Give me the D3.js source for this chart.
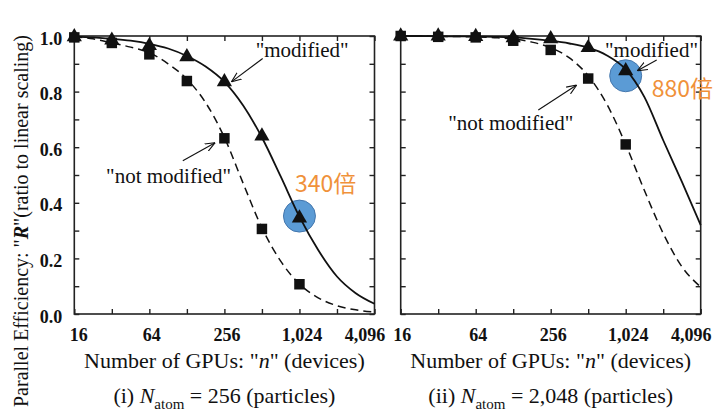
<!DOCTYPE html>
<html><head><meta charset="utf-8">
<script src="https://cdn.jsdelivr.net/npm/d3@7"></script>
<style>
body{margin:0;background:#fff} svg{display:block}
.serif{font-family:"Liberation Serif","DejaVu Serif","Noto Serif",serif;}
</style>
</head><body>
<svg id="c" width="713" height="412"></svg>
<script>
// ---------- data ----------
const gpuCounts = [16, 32, 64, 128, 256, 512, 1024];
const modified256 = [0.997, 0.985, 0.965, 0.925, 0.835, 0.64, 0.345];
const notModified256 = [0.995, 0.975, 0.934, 0.838, 0.632, 0.306, 0.107];
const modified2048 = [1.0, 1.0, 0.998, 0.993, 0.99, 0.958, 0.875];
const notModified2048 = [1.0, 0.997, 0.995, 0.983, 0.95, 0.847, 0.61];

const fitN = [16, 22.6, 32, 45.3, 64, 90.5, 128, 181, 256, 362, 512, 724, 1024, 1448, 2048, 2896, 4096];
const fitModified256 = [0.998, 0.995, 0.99, 0.983, 0.972, 0.955, 0.928, 0.89, 0.835, 0.75, 0.635, 0.495, 0.35, 0.23, 0.135, 0.075, 0.037];
const fitNotModified256 = [0.997, 0.99, 0.975, 0.96, 0.94, 0.9, 0.845, 0.76, 0.635, 0.47, 0.31, 0.19, 0.108, 0.058, 0.03, 0.015, 0.007];
const fitModified2048 = [1.0, 1.0, 0.999, 0.999, 0.998, 0.997, 0.995, 0.99, 0.983, 0.973, 0.958, 0.93, 0.88, 0.78, 0.625, 0.475, 0.32];
const fitNotModified2048 = [1.0, 1.0, 0.999, 0.998, 0.997, 0.994, 0.989, 0.978, 0.958, 0.921, 0.857, 0.754, 0.61, 0.444, 0.29, 0.17, 0.097];

const xTickValues = [16, 32, 64, 128, 256, 512, 1024, 2048, 4096];
const xTickLabels = ["16", "", "64", "", "256", "", "1,024", "", "4,096"];
const yTickValues = [0, 0.1, 0.2, 0.3, 0.4, 0.5, 0.6, 0.7, 0.8, 0.9, 1.0];
const yTickLabels = ["0.0", "", "0.2", "", "0.4", "", "0.6", "", "0.8", "", "1.0"];

const panelCaptions = ["(i) ", "(ii) "];
const panelAtoms = ["256", "2,048"];
const speedups = ["340倍", "880倍"];

// ---------- layout ----------
const svg = d3.select("#c");
svg.append("rect").attr("width", 713).attr("height", 412).attr("fill", "#fff");
const ink = "#111";

svg.append("defs").append("marker")
  .attr("id", "arr").attr("viewBox", "0 0 10 10").attr("refX", 10).attr("refY", 5)
  .attr("markerWidth", 10).attr("markerHeight", 10).attr("markerUnits", "userSpaceOnUse")
  .attr("orient", "auto")
  .append("path").attr("d", "M0,1 L10,5 L0,9").attr("fill", "none").attr("stroke", ink).attr("stroke-width", 1.1);

const panels = [
  { x0: 74.3, x1: 374.5, mod: modified256, nmod: notModified256, fm: fitModified256, fn: fitNotModified256,
    showY: true, firstDx: 4, hl: { n: 1024, v: 0.345, dy: -2 }, spd: { dx: -4.5, dy: -26.3 },
    ann: [
      { text: '"modified"', n: 256, v: 0.835, tip: [7, 0], start: [38.3, -23.4], txt: [31.3, -25] },
      { text: '"not modified"', n: 256, v: 0.632, tip: [-9.3, 4.4], start: [-41.6, 22.4], txt: [-118.3, 44.4] }
    ] },
  { x0: 400.7, x1: 700.7, mod: modified2048, nmod: notModified2048, fm: fitModified2048, fn: fitNotModified2048,
    showY: false, firstDx: 1, hl: { n: 1024, v: 0.875, dy: 5 }, spd: { dx: 26, dy: 26 },
    ann: [
      { text: '"modified"', n: 1024, v: 0.875, tip: [11.6, 0], start: [31, -10.7], txt: [-20.7, -13.4] },
      { text: '"not modified"', n: 512, v: 0.847, tip: [-11.5, 6.5], start: [-49.9, 31.5], txt: [-139.9, 51.5] }
    ] }
];
const yTop = 36, yBot = 314;

panels.forEach((p, pi) => {
  const x = d3.scaleLog().base(2).domain([16, 4096]).range([p.x0, p.x1]);
  const y = d3.scaleLinear().domain([0, 1]).range([yBot, yTop]);
  const g = svg.append("g");

  // frame
  g.append("rect").attr("x", p.x0).attr("y", yTop).attr("width", p.x1 - p.x0).attr("height", yBot - yTop)
    .attr("fill", "none").attr("stroke", "#222").attr("stroke-width", 1.6);

  // inward ticks via d3 axes
  const tl = 5;
  const axB = d3.axisBottom(x).tickValues(xTickValues).tickSize(-tl).tickFormat((d, i) => xTickLabels[i]).tickPadding(14);
  const gb = g.append("g").attr("transform", `translate(0,${yBot})`).call(axB);
  const axT = d3.axisTop(x).tickValues(xTickValues).tickSize(-tl).tickFormat("");
  const gt = g.append("g").attr("transform", `translate(0,${yTop})`).call(axT);
  const axL = d3.axisLeft(y).tickValues(yTickValues).tickSize(-tl).tickFormat((d, i) => p.showY ? yTickLabels[i] : "").tickPadding(12);
  const gl = g.append("g").attr("transform", `translate(${p.x0},0)`).call(axL);
  const axR = d3.axisRight(y).tickValues(yTickValues).tickSize(-tl).tickFormat("");
  const gr = g.append("g").attr("transform", `translate(${p.x1},0)`).call(axR);
  [gb, gt, gl, gr].forEach(a => {
    a.attr("font-family", null).attr("font-size", null);
    a.select(".domain").remove();
    a.selectAll(".tick line").attr("stroke", "#222").attr("stroke-width", 1.4);
  });
  gb.selectAll(".tick text").attr("class", "serif").style("font-size", "18px").style("font-weight", "bold")
    .attr("fill", ink).attr("dy", "0.71em")
    .attr("dx", (d, i) => i === 0 ? p.firstDx : (i === xTickValues.length - 1 ? -10 : 2));
  gl.selectAll(".tick text").attr("class", "serif").style("font-size", "18px").style("font-weight", "bold")
    .attr("fill", ink).attr("dy", "0.45em");

  // highlight circle
  g.append("circle").attr("cx", x(p.hl.n)).attr("cy", y(p.hl.v) + p.hl.dy).attr("r", 16)
    .attr("fill", "#5b9bd5").attr("stroke", "#4577ad").attr("stroke-width", 1);

  // fit curves
  const line = d3.line().x((d, i) => x(fitN[i])).y(d => y(d)).curve(d3.curveMonotoneX);
  g.append("path").datum(p.fn).attr("d", line).attr("fill", "none").attr("stroke", ink)
    .attr("stroke-width", 1.5).attr("stroke-dasharray", "8,5");
  g.append("path").datum(p.fm).attr("d", line).attr("fill", "none").attr("stroke", ink)
    .attr("stroke-width", 1.8);

  // markers
  const sq = d3.symbol().type(d3.symbolSquare).size(110);
  const tri = d3.symbol().type(d3.symbolTriangle).size(100);
  g.selectAll(".sq").data(p.nmod).join("path").attr("d", sq)
    .attr("transform", (d, i) => `translate(${x(gpuCounts[i])},${y(d)})`).attr("fill", ink);
  g.selectAll(".tri").data(p.mod).join("path").attr("d", tri)
    .attr("transform", (d, i) => `translate(${x(gpuCounts[i])},${y(d)})`).attr("fill", ink);

  // annotations
  p.ann.forEach(a => {
    const bx = x(a.n), by = y(a.v);
    g.append("line").attr("x1", bx + a.start[0]).attr("y1", by + a.start[1])
      .attr("x2", bx + a.tip[0]).attr("y2", by + a.tip[1])
      .attr("stroke", ink).attr("stroke-width", 1.1).attr("marker-end", "url(#arr)");
    g.append("text").attr("class", "serif").attr("x", bx + a.txt[0]).attr("y", by + a.txt[1]).text(a.text)
      .style("font-size", "21px").attr("fill", ink);
  });

  // speed-up label
  g.append("text").attr("x", x(p.hl.n) + p.spd.dx).attr("y", y(p.hl.v) + p.spd.dy).text(speedups[pi])
    .style("font-family", "'Noto Sans CJK SC','Noto Sans',sans-serif").style("font-size", "23px")
    .attr("fill", "#f0913a");

  // x title
  const cx = (p.x0 + p.x1) / 2;
  const xt = g.append("text").attr("class", "serif").attr("x", cx).attr("y", 368).attr("text-anchor", "middle")
    .style("font-size", "22px").attr("fill", ink);
  xt.append("tspan").text('Number of GPUs: "');
  xt.append("tspan").style("font-style", "italic").text("n");
  xt.append("tspan").text('" (devices)');

  // caption
  const ct = g.append("text").attr("class", "serif").attr("x", cx).attr("y", 403).attr("text-anchor", "middle")
    .style("font-size", "22px").attr("fill", ink);
  ct.append("tspan").text(panelCaptions[pi]);
  ct.append("tspan").style("font-style", "italic").text("N");
  ct.append("tspan").style("font-size", "15px").attr("dy", 6).text("atom");
  ct.append("tspan").attr("dy", -6).text(" = " + panelAtoms[pi] + " (particles)");
});

// y title
const yt = svg.append("text").attr("class", "serif").attr("transform", "translate(28,407) rotate(-90)")
  .style("font-size", "20px").attr("fill", ink);
yt.append("tspan").text('Parallel Efficiency: "');
yt.append("tspan").style("font-style", "italic").style("font-weight", "bold").text("R");
yt.append("tspan").text('"(ratio to linear scaling)');
</script>
</body></html>
